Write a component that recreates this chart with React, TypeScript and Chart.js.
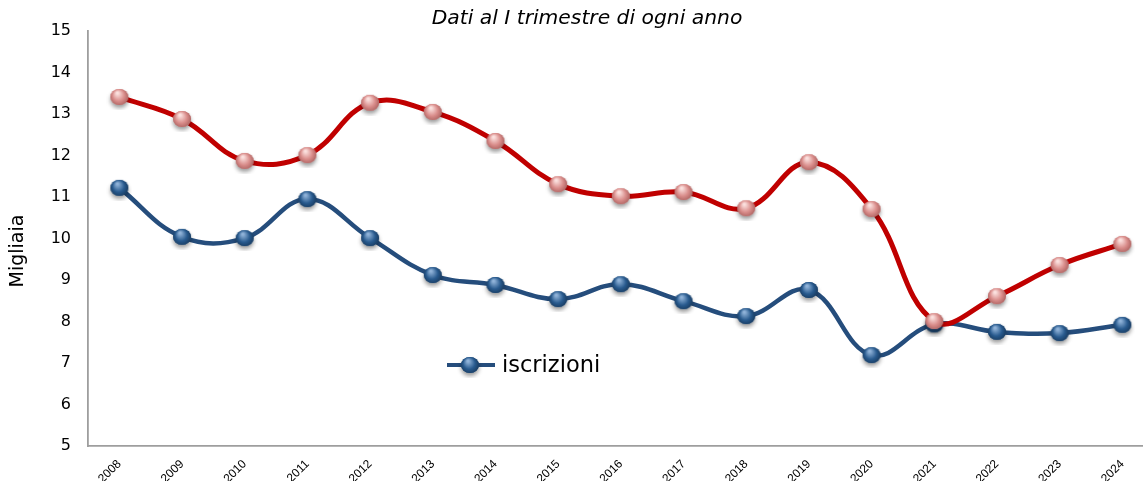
import React, { useEffect, useRef } from "react";
import { Chart, registerables } from "chart.js";

Chart.register(...registerables);

const years = [2008, 2009, 2010, 2011, 2012, 2013, 2014, 2015, 2016, 2017, 2018, 2019, 2020, 2021, 2022, 2023, 2024];
const iscrizioni = [11.22, 10.04, 10.01, 10.95, 10.01, 9.12, 8.88, 8.54, 8.9, 8.49, 8.13, 8.76, 7.19, 7.93, 7.75, 7.72, 7.92];
const cessazioni = [13.41, 12.88, 11.87, 12.01, 13.27, 13.05, 12.35, 11.31, 11.02, 11.12, 10.73, 11.84, 10.71, 8.01, 8.61, 9.36, 9.87];
const yTicks = [5, 6, 7, 8, 9, 10, 11, 12, 13, 14, 15];
const titleText = "Dati al I trimestre di ogni anno";
const yTitle = "Migliaia";
const legendLabel = "iscrizioni";

function makeSphere(base: string, light: string, dark: string) {
  const c = document.createElement("canvas");
  c.width = 26;
  c.height = 26;
  const g = c.getContext("2d")!;
  g.save();
  g.shadowColor = "rgba(0,0,0,0.4)";
  g.shadowBlur = 4;
  g.shadowOffsetY = 3;
  g.beginPath();
  g.ellipse(13, 13, 9, 8, 0, 0, Math.PI * 2);
  g.fillStyle = base;
  g.fill();
  g.restore();
  const grad = g.createRadialGradient(11, 9, 1, 13, 13, 10);
  grad.addColorStop(0, light);
  grad.addColorStop(0.55, base);
  grad.addColorStop(1, dark);
  g.beginPath();
  g.ellipse(13, 13, 9, 8, 0, 0, Math.PI * 2);
  g.fillStyle = grad;
  g.fill();
  return c;
}

export default function App() {
  const ref = useRef<HTMLCanvasElement | null>(null);
  useEffect(() => {
    if (!ref.current) return;
    const blueSphere = makeSphere("#285a8e", "#8fb2d8", "#163556");
    const redSphere = makeSphere("#d98c8a", "#fbe0de", "#a45c5a");
    const overlay = {
      id: "overlay",
      afterDraw(chart: any) {
        const ctx = chart.ctx;
        ctx.save();
        ctx.fillStyle = "#000";
        ctx.font = 'italic 20.3px "DejaVu Sans"';
        ctx.textAlign = "center";
        ctx.textBaseline = "middle";
        ctx.fillText(titleText, 587, 19);
        // y axis title
        ctx.save();
        ctx.translate(18, 251);
        ctx.rotate(-Math.PI / 2);
        ctx.font = '19px "DejaVu Sans"';
        ctx.fillText(yTitle, 0, 0);
        ctx.restore();
        // legend
        ctx.strokeStyle = "#254d7c";
        ctx.lineWidth = 4;
        ctx.beginPath();
        ctx.moveTo(447, 365);
        ctx.lineTo(495, 365);
        ctx.stroke();
        ctx.drawImage(blueSphere, 470 - 13, 365 - 13);
        ctx.font = '22.5px "DejaVu Sans"';
        ctx.textAlign = "left";
        ctx.fillText(legendLabel, 502, 366);
        ctx.restore();
      },
    };
    const chart = new Chart(ref.current, {
      type: "line",
      data: {
        datasets: [
          {
            label: "cessazioni",
            data: years.map((y, i) => ({ x: y, y: cessazioni[i] })),
            borderColor: "#c00000",
            borderWidth: 5,
            tension: 0.4,
            pointStyle: redSphere as any,
            pointRadius: 9,
          },
          {
            label: legendLabel,
            data: years.map((y, i) => ({ x: y, y: iscrizioni[i] })),
            borderColor: "#254d7c",
            borderWidth: 4.5,
            tension: 0.4,
            pointStyle: blueSphere as any,
            pointRadius: 9,
          },
        ],
      },
      options: {
        animation: false,
        responsive: true,
        maintainAspectRatio: false,
        layout: { autoPadding: false, padding: { top: 31, left: 0, right: 0, bottom: 0 } },
        plugins: {
          legend: { display: false },
          title: { display: false },
          tooltip: { enabled: false },
        },
        scales: {
          x: {
            type: "linear",
            min: 2007.5,
            max: 2024.33,
            grid: { display: false },
            border: { display: true, color: "#9e9e9e", width: 1.8 },
            afterBuildTicks: (scale: any) => {
              scale.ticks = years.map((v) => ({ value: v }));
            },
            afterFit: (scale: any) => {
              scale.height = 35;
              scale.paddingRight = 0;
              scale.paddingLeft = 0;
            },
            ticks: {
              autoSkip: false,
              minRotation: 45,
              maxRotation: 45,
              padding: 3,
              color: "#000",
              font: { family: "Liberation Sans", size: 12 },
              callback: (v: any) => String(v),
            },
          },
          y: {
            min: 5,
            max: 15,
            grid: { display: false },
            border: { display: true, color: "#9e9e9e", width: 1.8 },
            afterBuildTicks: (scale: any) => {
              scale.ticks = yTicks.map((v) => ({ value: v }));
            },
            afterFit: (scale: any) => {
              scale.width = 88;
              scale.paddingTop = 0;
              scale.paddingBottom = 0;
            },
            ticks: {
              padding: 9,
              color: "#000",
              font: { family: "DejaVu Sans", size: 16 },
            },
          },
        },
      },
      plugins: [overlay],
    } as any);
    return () => chart.destroy();
  }, []);
  return (
    <div style={{ position: "absolute", left: 0, top: 0, width: 1143, height: 481, background: "#fff" }}>
      <canvas ref={ref} />
    </div>
  );
}
